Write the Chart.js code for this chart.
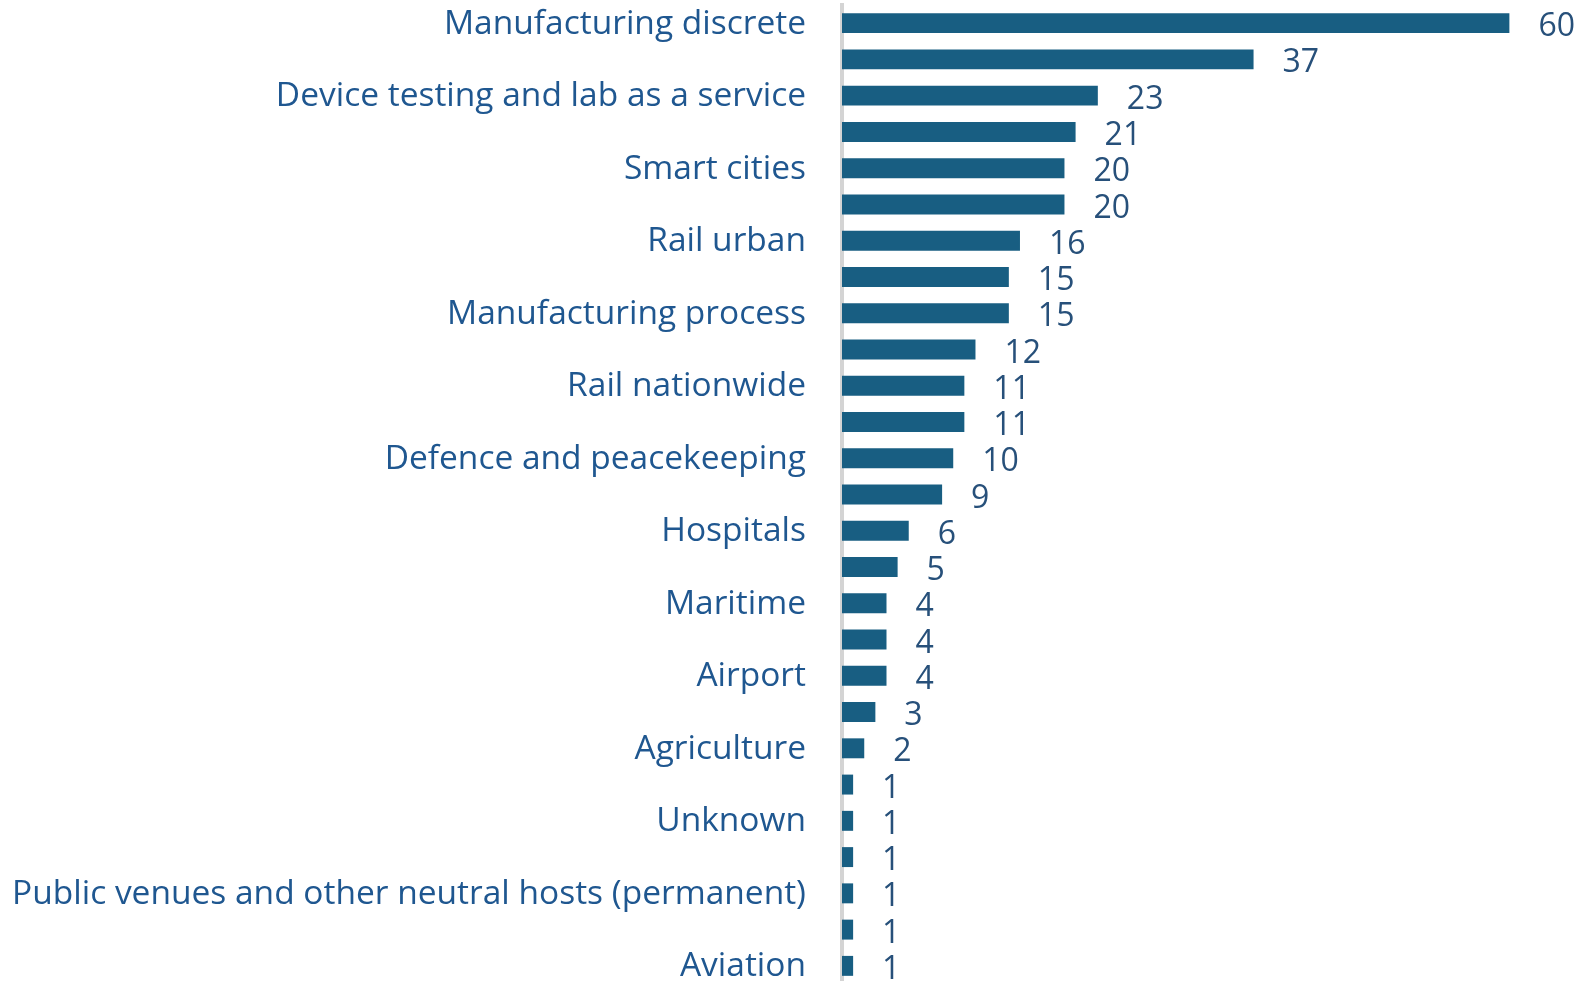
<!DOCTYPE html>
<html lang="en">
  <head>
    <meta charset="UTF-8">
    <title>Deployments by sector</title>
    <script src="https://cdn.jsdelivr.net/npm/chart.js"></script>
    <style>
      html, body { margin: 0; padding: 0; background: #fff; overflow: hidden; }
      #wrap { width: 1582px; height: 984px; }
    </style>
  </head>
  <body>
    <div id="wrap"><canvas id="barChart"></canvas></div>
    <script>
      // only every other sector gets a printed label
      const sectors = [
        'Manufacturing discrete', '',
        'Device testing and lab as a service', '',
        'Smart cities', '',
        'Rail urban', '',
        'Manufacturing process', '',
        'Rail nationwide', '',
        'Defence and peacekeeping', '',
        'Hospitals', '',
        'Maritime', '',
        'Airport', '',
        'Agriculture', '',
        'Unknown', '',
        'Public venues and other neutral hosts (permanent)', '',
        'Aviation'
      ];
      const counts = [60, 37, 23, 21, 20, 20, 16, 15, 15, 12, 11, 11, 10, 9, 6, 5, 4, 4, 4, 3, 2, 1, 1, 1, 1, 1, 1];
      const xMax = 65;

      const FONT = "'Open Sans', 'Noto Sans', sans-serif";

      // print the count just past the end of each bar
      const valueLabels = {
        id: 'valueLabels',
        afterDatasetsDraw(chart) {
          const ctx = chart.ctx;
          const meta = chart.getDatasetMeta(0);
          ctx.save();
          ctx.font = '32px ' + FONT;
          ctx.fillStyle = '#27507a';
          ctx.textAlign = 'left';
          ctx.textBaseline = 'middle';
          meta.data.forEach((bar, i) => {
            ctx.fillText(String(counts[i]), bar.x + 29, bar.y + 4);
          });
          ctx.restore();
        }
      };

      new Chart(document.getElementById('barChart'), {
        type: 'bar',
        data: {
          labels: sectors,
          datasets: [{
            data: counts,
            backgroundColor: '#185e82',
            barPercentage: 0.55,
            categoryPercentage: 1
          }]
        },
        options: {
          indexAxis: 'y',
          responsive: true,
          maintainAspectRatio: false,
          animation: false,
          layout: { padding: { top: 5, right: 17, bottom: 0, left: 0 } },
          plugins: {
            legend: { display: false },
            tooltip: { enabled: false }
          },
          scales: {
            x: {
              display: false,
              min: 0,
              max: xMax
            },
            y: {
              grid: { display: false, drawTicks: true, tickLength: 36 },
              border: { display: true, color: '#d4d4d4', width: 4 },
              ticks: {
                autoSkip: false,
                padding: 0,
                labelOffset: 1,
                color: '#1f5790',
                font: { family: FONT, size: 33.5 }
              },
              afterFit(scale) {
                scale.width = 842;
                // let the end labels overhang instead of shrinking the plot
                scale.paddingTop = 0;
                scale.paddingBottom = 0;
              }
            }
          }
        },
        plugins: [valueLabels]
      });
    </script>
  </body>
</html>
